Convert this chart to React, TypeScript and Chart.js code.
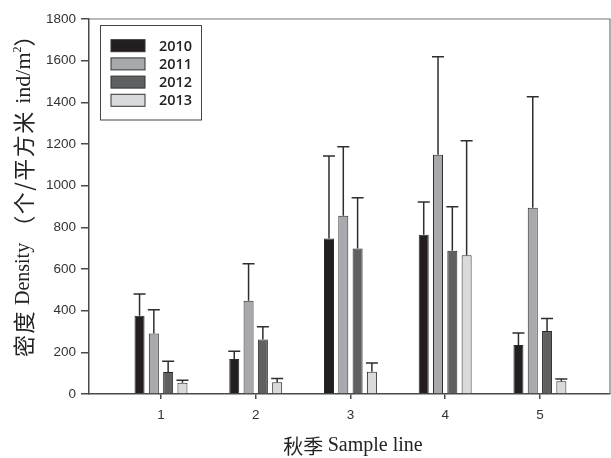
import React, { useEffect, useRef } from "react";
import { Chart, registerables } from "chart.js";

Chart.register(...registerables);

const categories = [1, 2, 3, 4, 5];
const seriesNames = ["2010", "2011", "2012", "2013"];
const values2010 = [376, 168, 746, 765, 235];
const values2011 = [290, 448, 856, 1149, 894];
const values2012 = [106, 262, 698, 688, 302];
const values2013 = [54, 56, 107, 666, 61];
const err2010 = [104, 37, 396, 157, 58];
const err2011 = [115, 177, 331, 470, 533];
const err2012 = [51, 61, 244, 211, 61];
const err2013 = [12, 19, 42, 550, 11];
const yTicks = [0, 200, 400, 600, 800, 1000, 1200, 1400, 1600, 1800];
const yTitleParts = [
  { t: "密度", cjk: true },
  { t: " Density ", cjk: false },
  { t: "（个/平方米 ", cjk: true },
  { t: "ind/m", cjk: false, big: true },
  { t: "2", cjk: false, sup: true },
  { t: "）", cjk: true },
];
const xTitleParts = [
  { t: "秋季 ", cjk: true },
  { t: "Sample line", cjk: false },
];

const colors = ["#231f20", "#a7a9ac", "#5f6062", "#d9dadb"];
const allValues = [values2010, values2011, values2012, values2013];
const allErrors = [err2010, err2011, err2012, err2013];

const AXIS = "#4a4a4a";

function fontFor(p: any, size: number, cjkSize: number) {
  if (p.cjk) return `${cjkSize}px "Noto Sans CJK SC"`;
  if (p.sup) return `${Math.round(size * 0.62)}px "Liberation Serif"`;
  if (p.big) return `${size + 2}px "Liberation Serif"`;
  return `${size}px "Liberation Serif"`;
}

function drawParts(
  ctx: CanvasRenderingContext2D,
  parts: any[],
  size: number,
  cjkSize: number,
  cx: number,
  cy: number,
  cjkSpacing: number
) {
  const c: any = ctx;
  const setSpacing = (p: any) => {
    if ("letterSpacing" in c) c.letterSpacing = p.cjk ? `${cjkSpacing}px` : "0px";
  };
  let total = 0;
  for (const p of parts) {
    ctx.font = fontFor(p, size, cjkSize);
    setSpacing(p);
    total += ctx.measureText(p.t).width;
  }
  let x = cx - total / 2;
  ctx.textBaseline = "middle";
  ctx.textAlign = "left";
  for (const p of parts) {
    ctx.font = fontFor(p, size, cjkSize);
    setSpacing(p);
    ctx.fillText(p.t, x, p.sup ? cy - size * 0.32 : cy);
    x += ctx.measureText(p.t).width;
  }
  if ("letterSpacing" in c) c.letterSpacing = "0px";
}

const customPlugin = {
  id: "custom",
  afterDatasetsDraw(chart: any) {
    const ctx = chart.ctx;
    const ys = chart.scales.y;
    ctx.save();
    ctx.strokeStyle = "#2e2e2e";
    ctx.lineWidth = 1.5;
    chart.data.datasets.forEach((ds: any, i: number) => {
      const meta = chart.getDatasetMeta(i);
      meta.data.forEach((bar: any, j: number) => {
        const v = allValues[i][j];
        const e = allErrors[i][j];
        const y0 = ys.getPixelForValue(v);
        const y1 = ys.getPixelForValue(v + e);
        ctx.beginPath();
        ctx.moveTo(bar.x, y0);
        ctx.lineTo(bar.x, y1);
        ctx.moveTo(bar.x - 6, y1);
        ctx.lineTo(bar.x + 6, y1);
        ctx.stroke();
      });
    });
    ctx.restore();
  },
  afterDraw(chart: any) {
    const ctx = chart.ctx;
    const a = chart.chartArea;
    ctx.save();
    // frame top/right
    ctx.strokeStyle = "#777";
    ctx.lineWidth = 1.2;
    ctx.beginPath();
    ctx.moveTo(a.left, a.top);
    ctx.lineTo(a.right, a.top);
    ctx.lineTo(a.right, a.bottom);
    ctx.stroke();

    // legend
    ctx.strokeStyle = "#444";
    ctx.lineWidth = 1;
    ctx.strokeRect(100.5, 25.5, 101, 94.5);
    seriesNames.forEach((name, i) => {
      const cy = 45.7 + i * 18.2;
      ctx.fillStyle = colors[i];
      ctx.fillRect(111, cy - 6, 34, 12);
      ctx.strokeStyle = "#333";
      ctx.strokeRect(111, cy - 6, 34, 12);
      ctx.fillStyle = "#222";
      ctx.font = '600 14.5px "Open Sans"';
      ctx.textBaseline = "middle";
      ctx.textAlign = "left";
      ctx.fillText(name, 159, cy + 1);
    });

    // x title
    ctx.fillStyle = "#222";
    drawParts(ctx, xTitleParts, 20, 20, 353, 446, 0);

    // y title (rotated)
    ctx.save();
    ctx.translate(24, 190);
    ctx.rotate(-Math.PI / 2);
    drawParts(ctx, yTitleParts, 20, 22, 0, 0, 1.5);
    ctx.restore();
    ctx.restore();
  },
};

export default function App() {
  const ref = useRef<HTMLCanvasElement | null>(null);
  useEffect(() => {
    if (!ref.current) return;
    const chart = new Chart(ref.current, {
      type: "bar",
      data: {
        datasets: seriesNames.map((name, i) => ({
          label: name,
          data: categories.map((c, j) => ({ x: c, y: allValues[i][j] })),
          backgroundColor: colors[i],
          borderColor: "#2a2a2a",
          borderWidth: 1,
          categoryPercentage: 0.604,
          barPercentage: 0.7,
        })),
      },
      plugins: [customPlugin],
      options: {
        animation: false,
        responsive: false,
        devicePixelRatio: 1,
        layout: { padding: { top: 19, right: 1, left: 0, bottom: 0 } },
        plugins: { legend: { display: false }, tooltip: { enabled: false } },
        scales: {
          x: {
            type: "linear",
            min: 0.24,
            max: 5.74,
            offset: false,
            afterBuildTicks: (s: any) => {
              s.ticks = categories.map((v) => ({ value: v }));
            },
            afterFit: (s: any) => {
              s.height = 64;
            },
            grid: { offset: false, drawOnChartArea: false, tickLength: 5, color: AXIS, lineWidth: 1.5 },
            border: { display: true, color: AXIS, width: 1.5 },
            ticks: {
              autoSkip: false,
              maxRotation: 0,
              padding: 8,
              color: "#333",
              font: { family: '"Liberation Sans"', size: 13.5 },
              callback: (v: any) => String(v),
            },
          },
          y: {
            min: 0,
            max: 1800,
            afterBuildTicks: (s: any) => {
              s.ticks = yTicks.map((v) => ({ value: v }));
            },
            afterFit: (s: any) => {
              s.width = 89;
            },
            grid: { drawOnChartArea: false, tickLength: 8, color: AXIS, lineWidth: 1.5 },
            border: { display: true, color: AXIS, width: 1.5 },
            ticks: {
              padding: 5,
              color: "#333",
              font: { family: '"Liberation Sans"', size: 13.5 },
              callback: (v: any) => String(v),
            },
          },
        },
      },
    });
    return () => chart.destroy();
  }, []);
  return (
    <div style={{ position: "fixed", left: 0, top: 0, width: 611, height: 458, background: "#fff" }}>
      <canvas ref={ref} width={611} height={458} style={{ width: 611, height: 458 }} />
    </div>
  );
}
